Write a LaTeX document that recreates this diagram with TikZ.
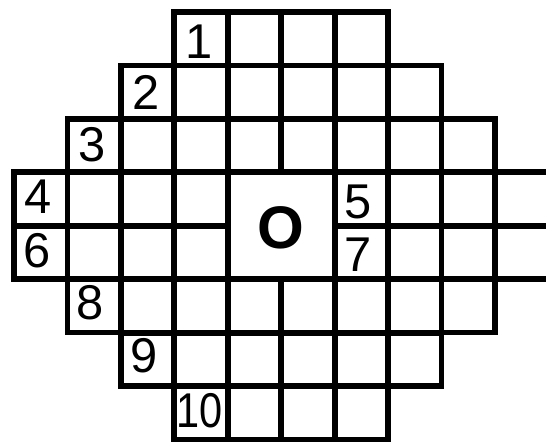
\documentclass[tikz,border=0pt]{standalone}
\usepackage{fontspec}
\setmainfont{Liberation Sans}
\usepackage{xcolor}
\definecolor{cInk}{RGB}{0,0,0}
\tikzset{
	cellgrid/.style={draw=cInk, line width=3.1pt, line cap=rect},
	clue/.style={font=\fontsize{26}{26}\selectfont, inner sep=0pt, text=cInk},
	centre/.style={font=\fontsize{32}{32}\selectfont\bfseries, inner sep=0pt, text=cInk},
}
\begin{document}
\begin{tikzpicture}
	\useasboundingbox (-0.263,-8.03) rectangle (9.957,0.225);
	% upper staircase
	\draw[cellgrid] (3,0) grid (7,-1);
	\draw[cellgrid] (2,-1) grid (8,-2);
	\draw[cellgrid] (1,-2) grid (9,-3);
	% middle band, open on the right
	\draw[cellgrid] (0,-3) grid (4,-5);
	\draw[cellgrid] (4,-3) rectangle (6,-5);
	\draw[cellgrid] (6,-3) grid (9.957,-5);
	% lower staircase
	\draw[cellgrid] (1,-5) grid (9,-6);
	\draw[cellgrid] (2,-6) grid (8,-7);
	\draw[cellgrid] (3,-7) grid (7,-8);
	% clue numbers
	\node[clue] (n1) at (3.47,-0.55) {1};
	\node[clue] (n2) at (2.48,-1.5) {2};
	\node[clue] (n3) at (1.46,-2.48) {3};
	\node[clue] (n4) at (0.45,-3.46) {4};
	\node[clue] (n5) at (6.44,-3.55) {5};
	\node[clue] (n6) at (0.43,-4.47) {6};
	\node[clue] (n7) at (6.44,-4.54) {7};
	\node[clue] (n8) at (1.42,-5.45) {8};
	\node[clue] (n9) at (2.43,-6.43) {9};
	\node[clue, xscale=0.85] (n10) at (3.47,-7.47) {10};
	\node[centre] (mid) at (4.99,-4.03) {O};
\end{tikzpicture}
\end{document}
